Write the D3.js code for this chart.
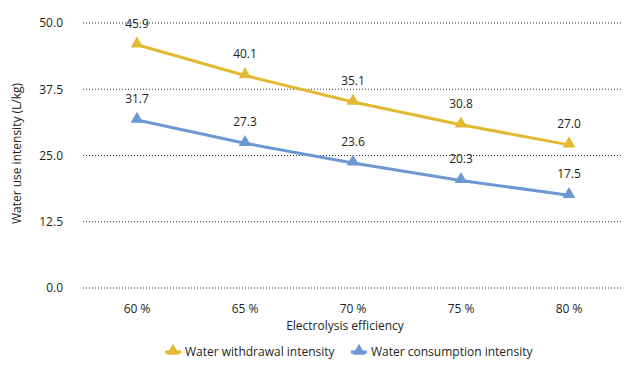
<!DOCTYPE html>
<html>
<head>
<meta charset="utf-8"/>
<script src="https://d3js.org/d3.v7.min.js"></script>
<style>
  body { margin: 0; background: #fff; }
  text { font-family: "Open Sans", "Noto Sans", sans-serif; fill: #231f20; }
</style>
</head>
<body>
<div id="chart"></div>
<script>
    var categories = ["60 %", "65 %", "70 %", "75 %", "80 %"];
    var withdrawal = [45.9, 40.1, 35.1, 30.8, 27.0];
    var consumption = [31.7, 27.3, 23.6, 20.3, 17.5];
    var yTicks = [0, 12.5, 25, 37.5, 50];
    var seriesNames = ["Water withdrawal intensity", "Water consumption intensity"];
    var colors = ["#e2b930", "#6b98d3"];

    var W = 633, H = 372;
    var margin = {top: 23, right: 10, bottom: 84, left: 83};
    var width = W - margin.left - margin.right,
        height = H - margin.top - margin.bottom;

    var svg = d3.select("#chart").append("svg")
        .attr("width", W).attr("height", H)
        .append("g")
        .attr("transform", "translate(" + margin.left + "," + margin.top + ")");

    var x = d3.scaleBand().domain(categories).range([0, 540]);
    var y = d3.scaleLinear().domain([0, 50]).range([height, 0]);

    // gridlines
    svg.selectAll("line.grid")
        .data(yTicks)
        .enter().append("line")
        .attr("x1", 0).attr("x2", 540)
        .attr("y1", function(d) { return y(d); })
        .attr("y2", function(d) { return y(d); })
        .attr("stroke", "#333")
        .attr("stroke-width", 1)
        .attr("stroke-dasharray", "1,2");

    // y axis labels
    var yAxis = svg.append("g")
        .attr("transform", "translate(-17,0)")
        .call(d3.axisLeft(y).tickValues(yTicks).tickFormat(d3.format(".1f")).tickSize(0));
    yAxis.select(".domain").remove();
    yAxis.selectAll("text").style("font-size", "12px").attr("fill", "#231f20");

    // x axis labels
    var xAxis = svg.append("g")
        .attr("transform", "translate(0," + (height + 13) + ")")
        .call(d3.axisBottom(x).tickSize(0));
    xAxis.select(".domain").remove();
    xAxis.selectAll("text").style("font-size", "12px").attr("fill", "#231f20");

    // axis titles
    svg.append("text")
        .attr("transform", "translate(" + (-62) + "," + (y(25) - 2) + ")rotate(-90)")
        .attr("text-anchor", "middle")
        .style("font-size", "12px")
        .text("Water use intensity (L/kg)");
    svg.append("text")
        .attr("x", 262).attr("y", height + 42)
        .attr("text-anchor", "middle")
        .style("font-size", "12px")
        .text("Electrolysis efficiency");

    var line = d3.line()
        .x(function(d, i) { return x(categories[i]) + x.bandwidth() / 2; })
        .y(function(d) { return y(d); });

    var tri = d3.symbol().type(d3.symbolTriangle).size(70);

    [withdrawal, consumption].forEach(function(vals, k) {
        svg.append("path")
            .datum(vals)
            .attr("d", line)
            .attr("fill", "none")
            .attr("stroke", colors[k])
            .attr("stroke-width", 3);
        svg.selectAll("path.m" + k)
            .data(vals).enter().append("path")
            .attr("class", "m" + k)
            .attr("d", tri)
            .attr("transform", function(d, i) {
                return "translate(" + (x(categories[i]) + x.bandwidth() / 2) + "," + (y(d) - 1) + ")";
            })
            .attr("fill", colors[k]);
        svg.selectAll("text.l" + k)
            .data(vals).enter().append("text")
            .attr("class", "l" + k)
            .attr("x", function(d, i) { return x(categories[i]) + x.bandwidth() / 2; })
            .attr("y", function(d) { return y(d) - 17; })
            .attr("text-anchor", "middle")
            .style("font-size", "12px")
            .text(function(d) { return d.toFixed(1); });
    });

    // legend
    var legend = svg.append("g")
        .attr("transform", "translate(0," + (height + 64) + ")");
    var legX = [90, 276];
    seriesNames.forEach(function(name, k) {
        var g = legend.append("g").attr("transform", "translate(" + legX[k] + ",0)");
        g.append("line").attr("x1", -8).attr("x2", 8).attr("y1", 0).attr("y2", 0)
            .attr("stroke", colors[k]).attr("stroke-width", 3);
        g.append("path").attr("d", tri).attr("fill", colors[k]).attr("transform", "translate(0,-1)");
        g.append("text").attr("x", 12).attr("y", 4)
            .style("font-size", "12px")
            .text(name);
    });
</script>
</body>
</html>
